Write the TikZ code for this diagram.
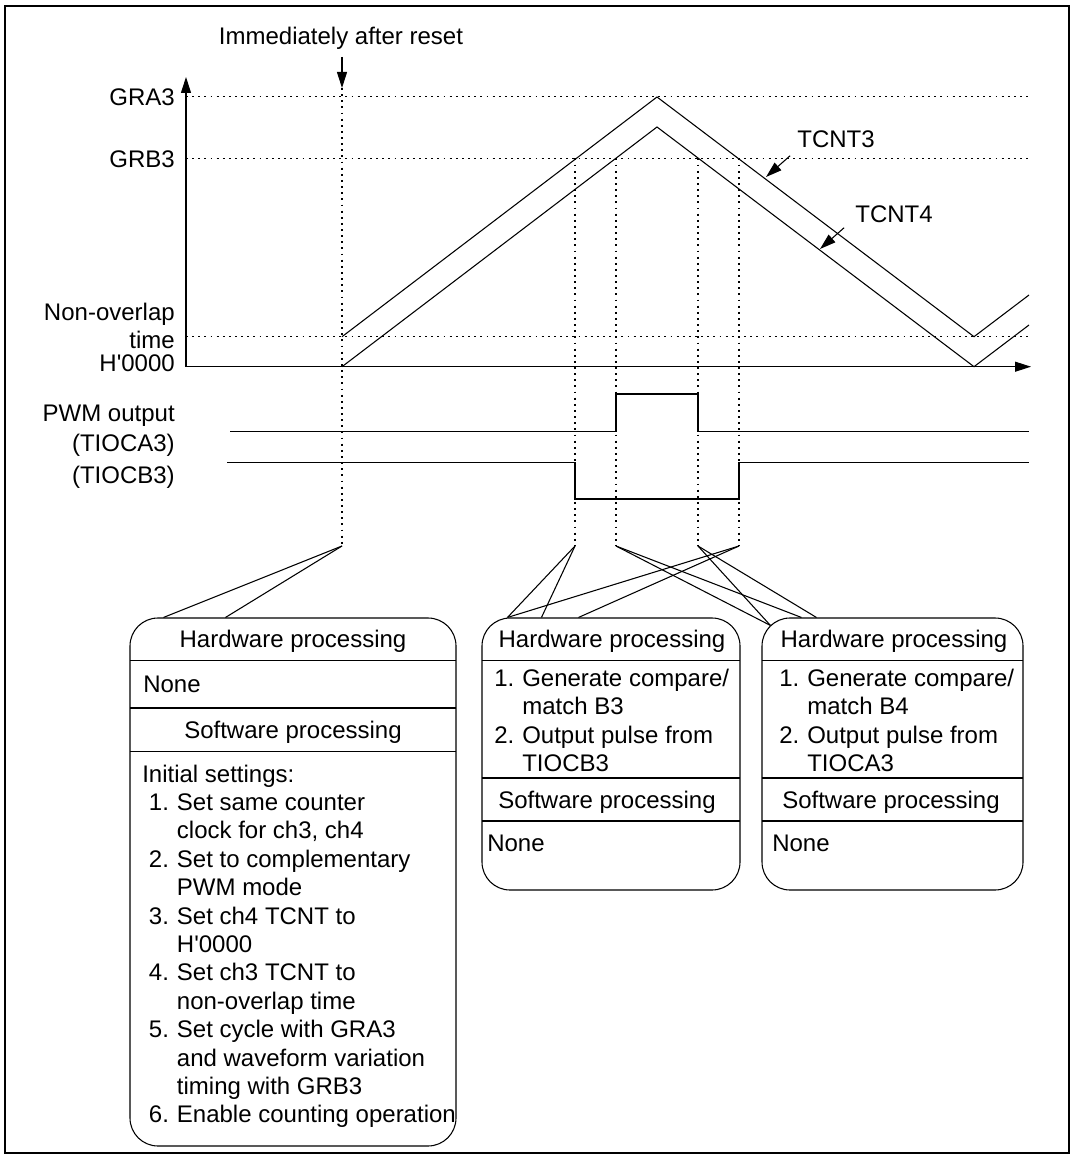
\documentclass[tikz,border=0pt]{standalone}
\usepackage{fontspec}
\setmainfont{Liberation Sans}
\usetikzlibrary{arrows.meta,calc,fit,positioning}

\begin{document}
\begin{tikzpicture}[
            x = 0.75pt, y = -0.75pt,
            every node/.style={font=\fontsize{18pt}{21.3pt}\selectfont, inner sep=0pt},
            line/.style={line width = .8pt},
            guide/.style={line width = .8pt, dash pattern=on 1.4pt off 3.2pt},
            tip/.style={-{Triangle[length=12pt, width=7.5pt]}},
            procbox/.style={draw, line width = .8pt, rounded corners=21pt, inner sep=0pt},
            lbl/.style={anchor=base east},
            item/.style={anchor=base west},
            head/.style={anchor=base},
            ]

        \useasboundingbox (0,0) rectangle (1074,1159);
        \draw[line width=1.5pt] (5,6) rectangle (1069,1153);

        % axes and levels
        \coordinate (O) at (186,366.7);
        \coordinate (yTop) at (186,77);
        \coordinate (xEnd) at (1031,366.7);
        \draw[line, tip] (O) -- (yTop);
        \draw[line, tip] (O) -- (xEnd);

        \draw[guide] (186,96.7) -- (1029,96.7);
        \draw[guide] (186,158.5) -- (1029,158.5);
        \draw[guide] (186,336.7) -- (1029,336.7);

        \node[lbl] (gra) at (175,105.3) {GRA3};
        \node[lbl] (grb) at (175,167) {GRB3};
        \node[lbl] (nol) at (175,320) {Non-overlap};
        \node[lbl] (nolt) at (175,348.3) {time};
        \node[lbl] (zero) at (175,371) {H\textquotesingle 0000};
        \node[lbl] (pwm) at (175,421.7) {PWM output};
        \node[lbl] (outA) at (175,451.7) {(TIOCA3)};
        \node[lbl] (outB) at (175,483.3) {(TIOCB3)};

        % reset marker
        \node[head] (reset) at (341,45) {Immediately after reset};
        \coordinate (rstTop) at (342,57);
        \coordinate (rstTip) at (342,88);
        \draw[line, tip] (rstTop) -- (rstTip);

        % counters
        \draw[line] (342,336.7) -- (657,97) -- (974,336.7) -- (1029,295);
        \draw[line] (342,366.7) -- (657,127) -- (974,366.7) -- (1029,325);

        \node (tc3) at (836,139) {TCNT3};
        \node (tc4) at (894,214) {TCNT4};
        \draw[line, tip] ($(tc3.south west)+(-7,8)$) -- (766,177);
        \draw[line, tip] ($(tc4.south west)+(-11,5)$) -- (820,249);

        % pwm outputs
        \draw[line] (230,431.7) -- (616,431.7) -- (616,394) -- (698,394) -- (698,431.7) -- (1029,431.7);
        \draw[line] (227,462.3) -- (575,462.3) -- (575,499) -- (739,499) -- (739,462.3) -- (1029,462.3);

        % timing marks
        \coordinate (rstEnd) at (342,546);
        \coordinate (cmB3) at (575,546);
        \coordinate (cmA4) at (616,546);
        \coordinate (cmB4) at (698,546);
        \coordinate (cmA3) at (739,546);
        \draw[guide] (rstTip) -- (rstEnd);
        \draw[guide] (575,158.5) -- (cmB3);
        \draw[guide] (616,158.5) -- (cmA4);
        \draw[guide] (698,158.5) -- (cmB4);
        \draw[guide] (739,158.5) -- (cmA3);

        % processing boxes
        \node[procbox, fit={(130,618) (456,1146)}] (boxL) {};
        \node[procbox, fit={(482,618) (740,890)}] (boxM) {};
        \node[procbox, fit={(762,618) (1023,890)}] (boxR) {};

        \draw[line] (130,660.7) -- (456,660.7);
        \draw[line] (130,708) -- (456,708);
        \draw[line] (130,751.7) -- (456,751.7);
        \draw[line] (482,660.5) -- (740,660.5);
        \draw[line] (482,778) -- (740,778);
        \draw[line] (482,821) -- (740,821);
        \draw[line] (762,660.5) -- (1023,660.5);
        \draw[line] (762,778) -- (1023,778);
        \draw[line] (762,821) -- (1023,821);

        \draw[line] (rstEnd) -- ($(boxL.north west)+(34,0)$);
        \draw[line] (rstEnd) -- ($(boxL.north west)+(96,0)$);
        \draw[line] (cmB3) -- ($(boxM.north west)+(26,0)$);
        \draw[line] (cmB3) -- ($(boxM.north west)+(60,0)$);
        \draw[line] (cmA3) -- ($(boxM.north west)+(26,0)$);
        \draw[line] (cmA3) -- ($(boxM.north west)+(97,0)$);
        \draw[line] (cmA4) -- ($(boxR.north west)+(9,8)$);
        \draw[line] (cmA4) -- ($(boxR.north west)+(40,0)$);
        \draw[line] (cmB4) -- ($(boxR.north west)+(9,8)$);
        \draw[line] (cmB4) -- ($(boxR.north west)+(55,0)$);

        % box texts
        \node[head] (hwL) at (293,647) {Hardware processing};
        \node[item] (noneL) at (143,692.5) {None};
        \node[head] (swL) at (293,738.5) {Software processing};
        \node[item] (listL) at (142,782) {\begin{tabular}[t]{@{\hspace{5pt}}l@{\hspace{6pt}}l@{}}
            \multicolumn{2}{@{}l@{}}{Initial settings:}\\
            1. & Set same counter\\
               & clock for ch3, ch4\\
            2. & Set to complementary\\
               & PWM mode\\
            3. & Set ch4 TCNT to\\
               & H\textquotesingle 0000\\
            4. & Set ch3 TCNT to\\
               & non-overlap time\\
            5. & Set cycle with GRA3\\
               & and waveform variation\\
               & timing with GRB3\\
            6. & Enable counting operation
            \end{tabular}};

        \node[head] (hwM) at (612,647) {Hardware processing};
        \node[item] (listM) at (494,686.5) {\begin{tabular}[t]{@{}l@{\hspace{6pt}}l@{}}
            1. & Generate compare/\\
               & match B3\\
            2. & Output pulse from\\
               & TIOCB3
            \end{tabular}};
        \node[head] (swM) at (607,808) {Software processing};
        \node[item] (noneM) at (487,851.5) {None};

        \node[head] (hwR) at (894,647) {Hardware processing};
        \node[item] (listR) at (779,686.5) {\begin{tabular}[t]{@{}l@{\hspace{6pt}}l@{}}
            1. & Generate compare/\\
               & match B4\\
            2. & Output pulse from\\
               & TIOCA3
            \end{tabular}};
        \node[head] (swR) at (891,808) {Software processing};
        \node[item] (noneR) at (772,851.5) {None};
    \end{tikzpicture}
\end{document}
